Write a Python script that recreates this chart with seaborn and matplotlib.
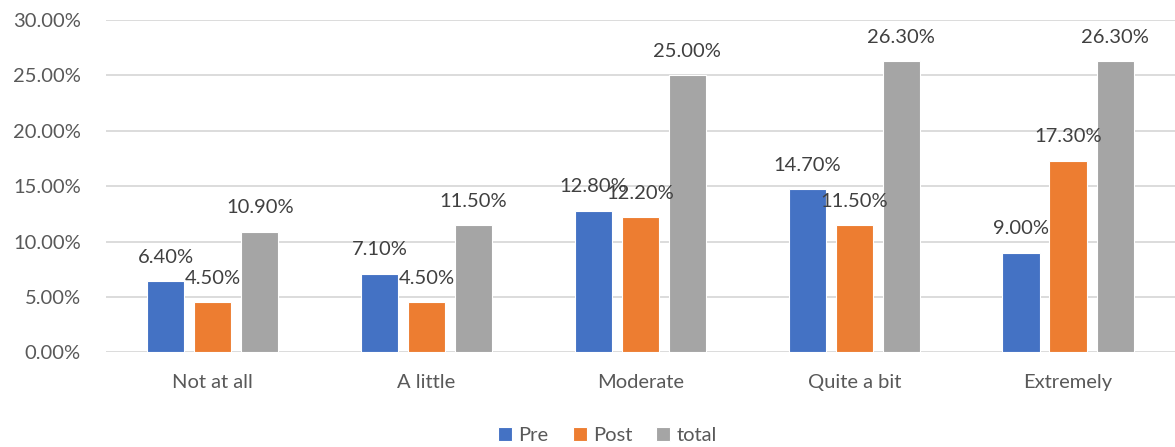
import matplotlib
matplotlib.use("Agg")
import matplotlib.pyplot as plt
import seaborn as sns
import pandas as pd
from matplotlib.ticker import FuncFormatter, MultipleLocator

categories = ["Not at all", "A little", "Moderate", "Quite a bit", "Extremely"]
series_names = ["Pre", "Post", "total"]
pre = [6.4, 7.1, 12.8, 14.7, 9.0]
post = [4.5, 4.5, 12.2, 11.5, 17.3]
total = [10.9, 11.5, 25.0, 26.3, 26.3]
colors = ["#4472C4", "#ED7D31", "#A5A5A5"]

rows = []
for name, vals in zip(series_names, [pre, post, total]):
    for c, v in zip(categories, vals):
        rows.append({"category": c, "series": name, "value": v})
df = pd.DataFrame(rows)

sns.set_theme(style="white")
plt.rcParams['font.family'] = ['Lato', 'DejaVu Sans']

fig, ax = plt.subplots(figsize=(11.75, 4.47), dpi=100)
fig.subplots_adjust(left=0.09, right=1.0, top=0.955, bottom=0.212)

sns.barplot(data=df, x="category", y="value", hue="series", order=categories,
            hue_order=series_names, palette=colors, width=0.66, gap=0.21,
            saturation=1, ax=ax, legend=True, errorbar=None,
            edgecolor="white", linewidth=0.8)

ax.set_ylim(0, 30)
ax.yaxis.set_major_locator(MultipleLocator(5))
ax.yaxis.set_major_formatter(FuncFormatter(lambda v, p: f"{v:.2f}%"))
ax.grid(axis="y", color="#D9D9D9", linewidth=1.3)
ax.set_axisbelow(True)
for s in ["top", "right", "left", "bottom"]:
    ax.spines[s].set_visible(False)
ax.set_xlabel("")
ax.set_ylabel("")
ax.tick_params(axis="both", colors="#595959", labelsize=14.5, length=0)
ax.tick_params(axis="x", pad=16)
ax.tick_params(axis="y", pad=18)
ax.set_xlim(-0.5, 4.5)

for cont in ax.containers:
    ax.bar_label(cont, labels=[f"{v:.2f}%" for v in cont.datavalues],
                 padding=11, fontsize=14.5, color="#404040")

leg = ax.legend(loc="center", bbox_to_anchor=(0.517, 0.025),
                bbox_transform=fig.transFigure, ncol=3,
                frameon=False, fontsize=14.5, handlelength=0.7, handleheight=0.7,
                handletextpad=0.3, columnspacing=1.2, labelcolor="#595959")

fig.savefig("out.png", dpi=100)
